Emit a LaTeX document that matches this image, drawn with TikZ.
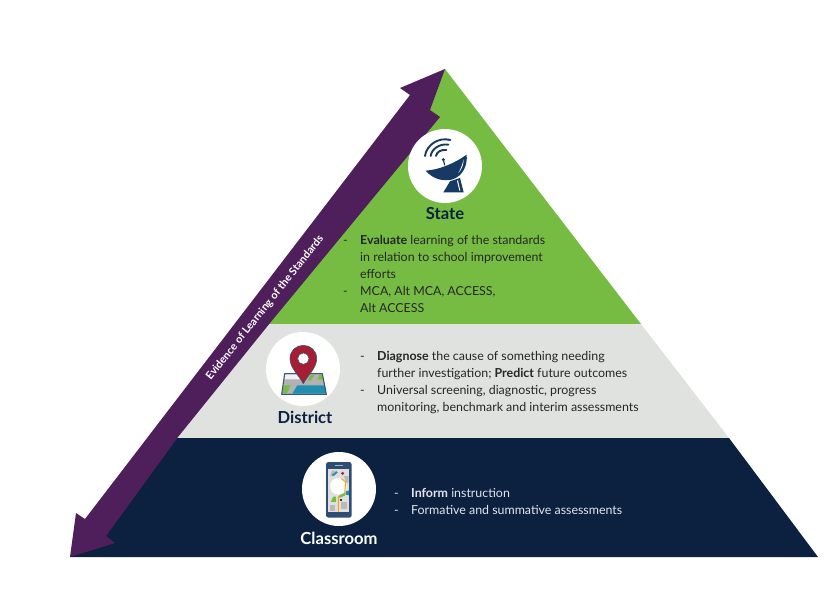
\documentclass[tikz,border=0pt]{standalone}
\usepackage{fontspec}
\setmainfont{Lato}
\usepackage{array}
\definecolor{lgreen}{RGB}{118,188,67}
\definecolor{lgrey}{RGB}{224,226,223}
\definecolor{dnavy}{RGB}{12,33,63}
\definecolor{dpurple}{RGB}{79,31,91}
\definecolor{iconblue}{RGB}{22,58,99}
\definecolor{pinred}{RGB}{165,30,51}
\definecolor{maptint}{RGB}{30,143,176}
\newcommand{\bodyfont}{\fontsize{12.4}{17}\selectfont}
\newcommand{\titlefont}{\fontsize{16.6}{20}\selectfont\bfseries}

\begin{document}
\begin{tikzpicture}[x=1pt,y=-1pt]
      \tikzstyle{badge}=[circle,fill=white,minimum size=74pt,inner sep=0pt]
      \tikzstyle{title}=[anchor=base,font=\titlefont]
      \tikzstyle{body}=[anchor=north west,inner sep=0pt,font=\bodyfont]

      \useasboundingbox (0,0) rectangle (833,602);

      % pyramid bands
      \fill[lgreen] (445,69) -- (641,324) -- (249,324) -- cycle;
      \fill[lgrey]  (249,324) -- (641,324) -- (729,438) -- (162,438) -- cycle;
      \fill[dnavy]  (162,438) -- (729,438) -- (818,557) -- (70,557) -- cycle;

      % double arrow on the left side
      \fill[dpurple] (445,69) -- (430,110) -- (440,117) -- (270,323) -- (178,437)
        -- (106,536) -- (115,543) -- (70,557) -- (76,513) -- (85,519)
        -- (410,95) -- (400,88) -- cycle;
      \node[rotate=51.4,text=white,font=\fontsize{10.8}{13}\selectfont\bfseries] (evidence) at (265,308)
        {Evidence of Learning of the Standards};

      \node[badge] (stateB) at (445,166) {};
      \node[badge] (districtB) at (303,369) {};
      \node[badge] (classB) at (339,489) {};

      \node[title,text=dnavy] (stateT) at (445,219) {State};
      \node[title,text=dnavy] (districtT) at (305,423) {District};
      \node[title,text=white] (classT) at (339,544) {Classroom};

      \node[body,text=black!85] (stateL) at (343,232) {\begin{tabular}{@{}p{17pt}@{}l@{}}
        - & \textbf{Evaluate} learning of the standards\\
          & in relation to school improvement\\
          & efforts\\
        - & MCA, Alt MCA, ACCESS,\\
          & Alt ACCESS
      \end{tabular}};
      \node[body,text=black!85] (districtL) at (360,348) {\begin{tabular}{@{}p{17pt}@{}l@{}}
        - & \textbf{Diagnose} the cause of something needing\\
          & further investigation; \textbf{Predict} future outcomes\\
        - & Universal screening, diagnostic, progress\\
          & monitoring, benchmark and interim assessments
      \end{tabular}};
      \node[body,text=white!88!dnavy] (classL) at (394,485) {\begin{tabular}{@{}p{17pt}@{}l@{}}
        - & \textbf{Inform} instruction\\
        - & Formative and summative assessments
      \end{tabular}};

      % satellite dish
      \begin{scope}[shift={(405,128)},scale=0.3333]
        \fill[iconblue] (62,128) .. controls (105,125) and (150,105) .. (185,80)
          .. controls (188,110) and (175,145) .. (140,155)
          .. controls (115,160) and (85,155) .. (62,128) -- cycle;
        \fill[white] (176,94) .. controls (176,110) and (170,125) .. (160,135)
          .. controls (168,122) and (172,108) .. (176,94) -- cycle;
        \fill[iconblue] (135,160) -- (165,150) -- (176,193) -- (115,193) -- cycle;
        \fill[white] (156,158) -- (159,157) -- (166,188) -- (163,188) -- cycle;
        \fill[iconblue] (115,95) circle (5);
        \draw[iconblue,line width=1.2pt] (115,95) -- (119,112);
        \draw[iconblue,line width=1.9pt,line cap=round] (93,84) .. controls (95,72) and (108,64) .. (124,66);
        \draw[iconblue,line width=1.9pt,line cap=round] (77,84) .. controls (80,62) and (105,46) .. (130,50);
        \draw[iconblue,line width=1.9pt,line cap=round] (60,84) .. controls (64,52) and (100,26) .. (136,36);
      \end{scope}

      % map with pin
      \begin{scope}[shift={(264,332)},scale=0.3333]
        \fill[gray!60] (62,125) -- (175,125) -- (187,187) -- (53,187) -- cycle;
        \fill[white!88!gray] (64,127) -- (118,127) -- (115,142) -- (61,142) -- cycle;
        \fill[maptint] (100,160) -- (183,160) -- (186,185) -- (85,185) -- cycle;
        \fill[lgreen] (59,160) -- (80,160) -- (68,184) -- (56,184) -- cycle;
        \fill[lgreen] (140,129) -- (151,129) -- (141,145) -- (131,145) -- cycle;
        \fill[lgreen] (165,129) -- (176,129) -- (179,143) -- (161,143) -- cycle;
        \draw[iconblue!85,line width=1.1pt,line join=round]
          (62,125) -- (175,125) -- (187,187) -- (53,187) -- cycle;
        \fill[pinred,draw=iconblue!85,line width=0.6pt]
          (118,155) .. controls (105,130) and (78,108) .. (78,80)
          .. controls (78,55) and (97,40) .. (118,40)
          .. controls (139,40) and (158,55) .. (158,80)
          .. controls (158,108) and (131,130) .. (118,155) -- cycle;
        \fill[white,draw=iconblue!85,line width=0.6pt] (118,80) circle (17);
      \end{scope}

      % phone with map screen
      \begin{scope}[shift={(300,452)},scale=0.3333]
        \fill[iconblue!90!white,rounded corners=2.5pt] (78,30) rectangle (155,197);
        \fill[gray!25] (85,52) rectangle (148,180);
        \draw[white!60!iconblue,line width=0.8pt] (105,41) -- (130,41);
        \fill[gray!55] (96,56) -- (112,56) -- (105,72) -- (90,72) -- cycle;
        \fill[gray!55] (132,72) -- (146,72) -- (146,92) -- (138,92) -- cycle;
        \fill[gray!55] (90,158) -- (106,158) -- (106,176) -- (90,176) -- cycle;
        \fill[gray!55] (122,150) -- (142,150) -- (142,170) -- (122,170) -- cycle;
        \fill[white] (115,103) circle (25);
        \fill[maptint] (96,68) -- (110,58) -- (113,62) -- (99,72) -- cycle;
        \fill[pinred] (128,64) circle (5);
        \draw[orange!70!yellow,line width=1pt] (124,80) -- (137,90) -- (135,112) -- (135,125)
          -- (115,135) -- (115,180);
        \fill[lgreen] (92,150) -- (100,134) -- (108,134) -- (108,150) -- cycle;
        \fill[lgreen] (118,130) -- (136,122) -- (136,130) -- (118,138) -- cycle;
        \fill[maptint] (138,118) -- (148,115) -- (146,130) -- (138,128) -- cycle;
        \fill[iconblue] (120,140) rectangle (126,146);
      \end{scope}
\end{tikzpicture}
\end{document}
